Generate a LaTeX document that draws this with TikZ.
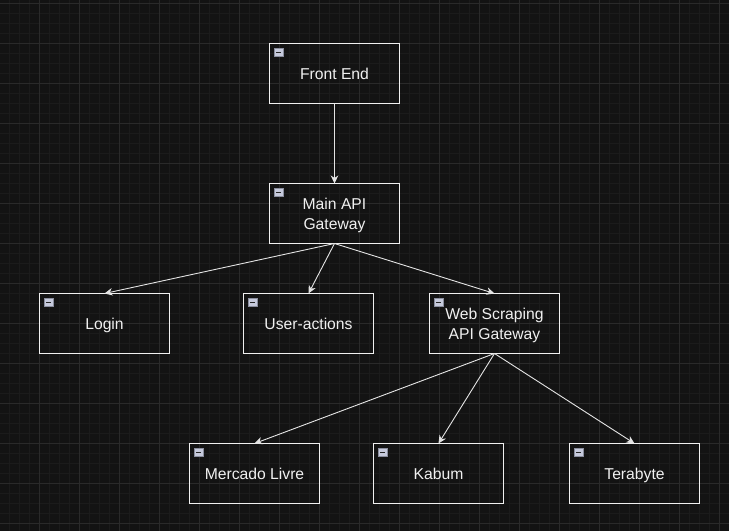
\documentclass[tikz,border=0pt]{standalone}
\usepackage{fontspec}
\setmainfont{Liberation Sans}
\usetikzlibrary{arrows.meta,calc}
\definecolor{bgc}{HTML}{131313}
\definecolor{gridmajor}{HTML}{2A2A2A}
\definecolor{gridminor}{HTML}{1B1B1B}
\definecolor{linec}{HTML}{F0F0F0}
\definecolor{edgec}{HTML}{E4E4E4}
\definecolor{iconfill}{HTML}{C6CADC}
\definecolor{iconborder}{HTML}{8A8E9E}
\tikzset{
  boxnode/.style={draw=linec, line width=1pt, minimum width=130pt, minimum height=60pt,
    inner sep=0pt, outer sep=0pt, text=linec, align=center, text depth=0pt,
    font=\fontsize{15.7}{19.8}\selectfont},
  edge/.style={draw=edgec, line width=0.9pt, -{Stealth[length=8pt,width=7.5pt,inset=2.5pt]}},
  minorgrid/.style={draw=gridminor, line width=0.8pt},
  majorgrid/.style={draw=gridmajor, line width=0.9pt},
  iconbox/.style={fill=iconfill, draw=iconborder, line width=0.6pt},
  iconbar/.style={draw=black!85, line width=1.3pt}
}
\begin{document}
\begin{tikzpicture}[x=1pt,y=-1pt]
  \fill[bgc] (0,0) rectangle (729,531);
  \useasboundingbox (0,0) rectangle (729,531);
  \foreach \x in {9.5,19.5,...,729} \draw[minorgrid] (\x,0) -- (\x,531);
  \foreach \y in {3.5,13.5,...,531} \draw[minorgrid] (0,\y) -- (729,\y);
  \foreach \x in {39.5,79.5,...,729} \draw[majorgrid] (\x,0) -- (\x,531);
  \foreach \y in {3.5,43.5,...,531} \draw[majorgrid] (0,\y) -- (729,\y);

  \node[boxnode] (fe) at (334.5,73.5) {Front End};
  \node[boxnode] (main) at (334.5,213.5) {Main API\\Gateway};
  \node[boxnode] (login) at (104.5,323.5) {Login};
  \node[boxnode] (user) at (308.5,323.5) {User-actions};
  \node[boxnode] (web) at (494.5,323.5) {Web Scraping\\API Gateway};
  \node[boxnode] (ml) at (254.5,473.5) {Mercado Livre};
  \node[boxnode] (kabum) at (438.5,473.5) {Kabum};
  \node[boxnode] (tera) at (634.5,473.5) {Terabyte};

  \foreach \n in {fe,main,login,user,web,ml,kabum,tera} {
    \draw[iconbox] ([shift={(5,4.5)}]\n.north west) rectangle ([shift={(13.5,13)}]\n.north west);
    \draw[iconbar] ([shift={(6.8,8.75)}]\n.north west) -- ([shift={(11.7,8.75)}]\n.north west);
  }

  \draw[edge] (fe.south) -- (main.north);
  \draw[edge] (main.south) -- (login.north);
  \draw[edge] (main.south) -- (user.north);
  \draw[edge] (main.south) -- (web.north);
  \draw[edge] (web.south) -- (ml.north);
  \draw[edge] (web.south) -- (kabum.north);
  \draw[edge] (web.south) -- (tera.north);
\end{tikzpicture}
\end{document}
